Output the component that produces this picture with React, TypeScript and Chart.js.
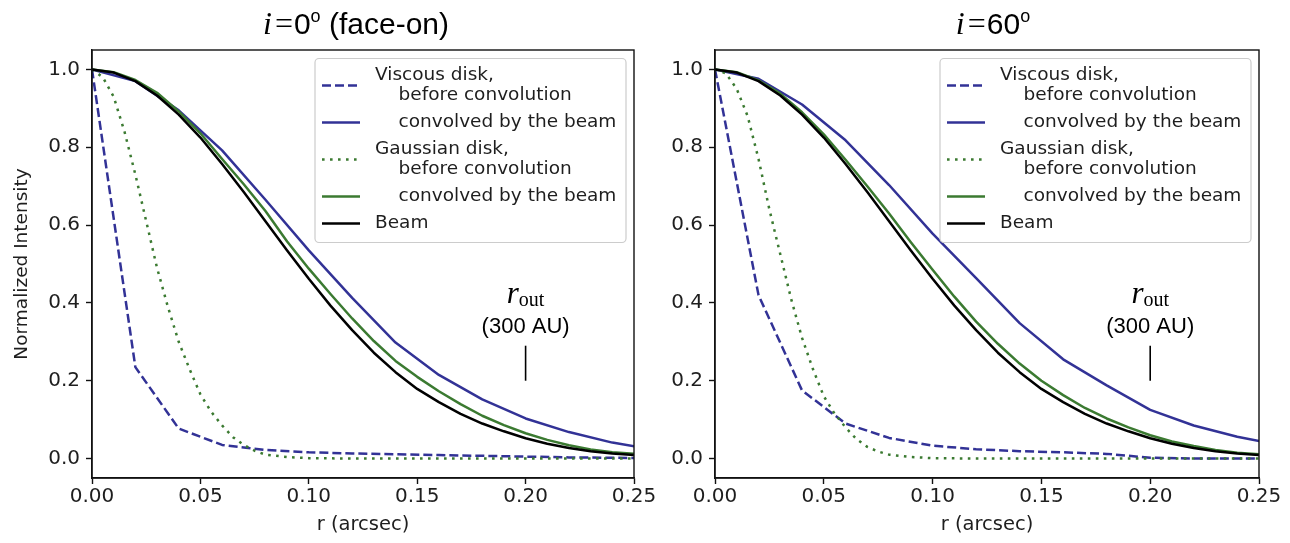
import React, { useEffect, useRef } from "react";
import { Chart, registerables } from "chart.js";

Chart.register(...registerables);

// ---------- data ----------
const xTickValues = [0, 0.05, 0.1, 0.15, 0.2, 0.25];
const xTickLabels = ["0.00", "0.05", "0.10", "0.15", "0.20", "0.25"];
const yTickValues = [0, 0.2, 0.4, 0.6, 0.8, 1.0];
const yTickLabels = ["0.0", "0.2", "0.4", "0.6", "0.8", "1.0"];

// viscous-disk model grid (arcsec)
const rCoarse = [0, 0.02, 0.04, 0.06, 0.08, 0.1, 0.12, 0.14, 0.16, 0.18, 0.2, 0.22, 0.24, 0.26];
const viscousRawLeft = [1.0, 0.235, 0.077, 0.035, 0.022, 0.016, 0.013, 0.011, 0.009, 0.007, 0.005, 0.003, 0.002, 0.001];
const viscousConvLeft = [1.0, 0.97, 0.895, 0.792, 0.665, 0.535, 0.413, 0.298, 0.215, 0.152, 0.103, 0.068, 0.041, 0.022];
const viscousRawRight = [1.0, 0.42, 0.175, 0.09, 0.053, 0.033, 0.024, 0.019, 0.016, 0.012, 0.002, 0.0, 0.0, 0.0];
const viscousConvRight = [1.0, 0.976, 0.91, 0.818, 0.703, 0.578, 0.464, 0.348, 0.255, 0.188, 0.125, 0.085, 0.056, 0.034];

// gaussian-disk model grid (arcsec)
const rGauss = [0, 0.005, 0.01, 0.015, 0.02, 0.025, 0.03, 0.035, 0.04, 0.045, 0.05, 0.055, 0.06, 0.065, 0.07, 0.075, 0.08, 0.09, 0.1, 0.12, 0.15, 0.2, 0.25];
const gaussRawLeft = [1.0, 0.98, 0.93, 0.84, 0.73, 0.61, 0.49, 0.39, 0.3, 0.23, 0.165, 0.12, 0.085, 0.055, 0.035, 0.02, 0.01, 0.004, 0.001, 0, 0, 0, 0];
const gaussRawRight = [1.0, 0.99, 0.95, 0.88, 0.77, 0.64, 0.525, 0.41, 0.31, 0.23, 0.16, 0.115, 0.08, 0.05, 0.03, 0.018, 0.01, 0.004, 0.001, 0, 0, 0, 0];

// convolved profiles and beam grid (arcsec)
const rFine = [0, 0.01, 0.02, 0.03, 0.04, 0.05, 0.06, 0.07, 0.08, 0.09, 0.1, 0.11, 0.12, 0.13, 0.14, 0.15, 0.16, 0.17, 0.18, 0.19, 0.2, 0.21, 0.22, 0.23, 0.24, 0.25];
const gaussConvLeft = [1.0, 0.993, 0.973, 0.94, 0.892, 0.836, 0.77, 0.705, 0.636, 0.558, 0.488, 0.423, 0.36, 0.302, 0.251, 0.21, 0.173, 0.14, 0.11, 0.086, 0.065, 0.048, 0.034, 0.023, 0.016, 0.012];
const gaussConvRight = [1.0, 0.993, 0.972, 0.938, 0.89, 0.833, 0.768, 0.7, 0.63, 0.556, 0.485, 0.416, 0.352, 0.295, 0.244, 0.2, 0.163, 0.13, 0.103, 0.08, 0.06, 0.044, 0.032, 0.022, 0.015, 0.011];
const beamProfile = [1.0, 0.992, 0.97, 0.933, 0.884, 0.825, 0.757, 0.685, 0.61, 0.535, 0.462, 0.393, 0.33, 0.272, 0.222, 0.179, 0.145, 0.115, 0.09, 0.07, 0.052, 0.038, 0.027, 0.019, 0.013, 0.009];

const legendLabels: string[][] = [
  ["Viscous disk,", "    before convolution"],
  ["    convolved by the beam"],
  ["Gaussian disk,", "    before convolution"],
  ["    convolved by the beam"],
  ["Beam"],
];

// r_out annotation (arcsec / normalized intensity)
const rOut = 0.2;
const rOutLabel = "(300 AU)";
const rOutLineFrom = 0.2;
const rOutLineTo = 0.29;
const rOutSymbolY = 0.415;
const rOutLabelY = 0.338;

// ---------- styles ----------
const FONT_SANS = "'DejaVu Sans', 'Noto Sans', sans-serif";
const FONT_TITLE = "'Liberation Sans', Arial, sans-serif";
const FONT_SERIF = "'Liberation Serif', 'DejaVu Serif', serif";
const BLUE = "#323296";
const GREEN = "#3b7a31";
const BLACK = "#000000";
const TEXT = "#1e1e1e";
const LW = 2.5;
const DASH = [9, 4];
const DOT = [2.6, 5.4];

const seriesStyles = [
  { color: BLUE, dash: DASH },
  { color: BLUE, dash: [] as number[] },
  { color: GREEN, dash: DOT },
  { color: GREEN, dash: [] as number[] },
  { color: BLACK, dash: [] as number[] },
];

type TitlePart = { t: string; kind: "italic" | "sans" | "sup" | "serif"; gap: number };

type PanelSpec = {
  left: number;
  width: number;
  yAxisWidth: number;
  padRight: number;
  showYTitle: boolean;
  title: TitlePart[];
  titleShift: number;
  viscousRaw: number[];
  viscousConv: number[];
  gaussRaw: number[];
  gaussConv: number[];
};

const panels: PanelSpec[] = [
  {
    left: 0,
    width: 660,
    yAxisWidth: 92,
    padRight: 26,
    showYTitle: true,
    title: [
      { t: "i", kind: "italic", gap: 3 },
      { t: "=", kind: "serif", gap: 1 },
      { t: "0", kind: "sans", gap: 0 },
      { t: "o", kind: "sup", gap: 0 },
      { t: " (face-on)", kind: "sans", gap: 0 },
    ],
    titleShift: -7,
    viscousRaw: viscousRawLeft,
    viscousConv: viscousConvLeft,
    gaussRaw: gaussRawLeft,
    gaussConv: gaussConvLeft,
  },
  {
    left: 655,
    width: 635,
    yAxisWidth: 60,
    padRight: 31,
    showYTitle: false,
    title: [
      { t: "i", kind: "italic", gap: 3 },
      { t: "=", kind: "serif", gap: 1 },
      { t: "60", kind: "sans", gap: 0 },
      { t: "o", kind: "sup", gap: 0 },
    ],
    titleShift: 6,
    viscousRaw: viscousRawRight,
    viscousConv: viscousConvRight,
    gaussRaw: gaussRawRight,
    gaussConv: gaussConvRight,
  },
];

const pts = (xs: number[], ys: number[]) => xs.map((x, i) => ({ x, y: ys[i] }));

function titleFont(kind: TitlePart["kind"]) {
  if (kind === "italic") return `italic 32px ${FONT_SERIF}`;
  if (kind === "serif") return `32px ${FONT_SERIF}`;
  if (kind === "sup") return `18px ${FONT_TITLE}`;
  return `30px ${FONT_TITLE}`;
}

function makeDecorPlugin(spec: PanelSpec) {
  return {
    id: "decor",
    afterDraw(chart: any) {
      const { ctx, chartArea: ca, scales } = chart;
      const xs = scales.x;
      const ys = scales.y;
      ctx.save();

      // frame
      ctx.strokeStyle = "#111";
      ctx.lineWidth = 1.4;
      ctx.setLineDash([]);
      ctx.strokeRect(ca.left, ca.top, ca.right - ca.left, ca.bottom - ca.top);

      // title
      let total = 0;
      for (const p of spec.title) {
        ctx.font = titleFont(p.kind);
        total += ctx.measureText(p.t).width + p.gap;
      }
      let tx = (ca.left + ca.right) / 2 + spec.titleShift - total / 2;
      const baseY = ca.top - 16;
      ctx.fillStyle = "#000";
      ctx.textBaseline = "alphabetic";
      ctx.textAlign = "left";
      for (const p of spec.title) {
        ctx.font = titleFont(p.kind);
        const y = p.kind === "sup" ? baseY - 12 : baseY;
        ctx.fillText(p.t, tx, y);
        tx += ctx.measureText(p.t).width + p.gap;
      }

      // r_out annotation
      const ax = xs.getPixelForValue(rOut);
      ctx.strokeStyle = "#000";
      ctx.lineWidth = 1.6;
      ctx.beginPath();
      ctx.moveTo(ax, ys.getPixelForValue(rOutLineFrom));
      ctx.lineTo(ax, ys.getPixelForValue(rOutLineTo));
      ctx.stroke();
      ctx.fillStyle = "#000";
      ctx.font = `22px ${FONT_TITLE}`;
      ctx.textAlign = "center";
      ctx.textBaseline = "middle";
      ctx.fillText(rOutLabel, ax, ys.getPixelForValue(rOutLabelY));
      // r_out symbol
      const symBase = ys.getPixelForValue(rOutSymbolY) + 6;
      ctx.font = `italic 31px ${FONT_SERIF}`;
      const wr = ctx.measureText("r").width;
      ctx.font = `20px ${FONT_SERIF}`;
      const wo = ctx.measureText("out").width;
      const sx = ax - (wr + wo) / 2;
      ctx.textAlign = "left";
      ctx.textBaseline = "alphabetic";
      ctx.font = `italic 31px ${FONT_SERIF}`;
      ctx.fillText("r", sx, symBase);
      ctx.font = `20px ${FONT_SERIF}`;
      ctx.fillText("out", sx + wr, symBase + 3);

      // legend
      const bw = 311;
      const bh = 184;
      const bx = ca.right - 8 - bw;
      const by = ca.top + 8.5;
      ctx.fillStyle = "rgba(255,255,255,0.85)";
      ctx.strokeStyle = "#cccccc";
      ctx.lineWidth = 1.2;
      ctx.beginPath();
      (ctx as any).roundRect(bx, by, bw, bh, 4);
      ctx.fill();
      ctx.stroke();
      ctx.font = `18.5px ${FONT_SANS}`;
      ctx.fillStyle = TEXT;
      ctx.textBaseline = "middle";
      ctx.textAlign = "left";
      let cy = by + 7;
      legendLabels.forEach((lines, i) => {
        const centers = lines.map((_, k) => cy + 10 + k * 20);
        lines.forEach((ln, k) => ctx.fillText(ln, bx + 60, centers[k]));
        const mid = centers.reduce((a, b) => a + b, 0) / centers.length;
        const st = seriesStyles[i];
        ctx.strokeStyle = st.color;
        ctx.lineWidth = LW;
        ctx.setLineDash(st.dash);
        ctx.beginPath();
        ctx.moveTo(bx + 7, mid);
        ctx.lineTo(bx + 45, mid);
        ctx.stroke();
        ctx.setLineDash([]);
        cy += lines.length * 20 + 7;
      });

      ctx.restore();
    },
  };
}

function Panel({ spec }: { spec: PanelSpec }) {
  const ref = useRef<HTMLCanvasElement>(null);
  useEffect(() => {
    const series = [
      pts(rCoarse, spec.viscousRaw),
      pts(rCoarse, spec.viscousConv),
      pts(rGauss, spec.gaussRaw),
      pts(rFine, spec.gaussConv),
      pts(rFine, beamProfile),
    ];
    const tickFont = { family: FONT_SANS, size: 20 };
    const chart = new Chart(ref.current as HTMLCanvasElement, {
      type: "line",
      data: {
        datasets: series.map((d, i) => ({
          label: legendLabels[i].join(" ").trim(),
          data: d,
          borderColor: seriesStyles[i].color,
          borderDash: seriesStyles[i].dash,
          borderWidth: LW,
          borderCapStyle: "butt",
          borderJoinStyle: "round",
          pointRadius: 0,
          tension: 0,
          fill: false,
          order: 4 - i,
        })),
      },
      options: {
        animation: false,
        responsive: false,
        devicePixelRatio: 1,
        layout: { padding: { left: 0, top: 50, right: spec.padRight, bottom: 0 } },
        plugins: { legend: { display: false }, tooltip: { enabled: false }, title: { display: false } },
        scales: {
          x: {
            type: "linear",
            min: 0,
            max: 0.25,
            afterBuildTicks: (s: any) => {
              s.ticks = xTickValues.map((v) => ({ value: v }));
            },
            afterFit: (s: any) => {
              s.height = 65;
            },
            ticks: {
              callback: (_v: any, i: number) => xTickLabels[i],
              font: tickFont,
              color: TEXT,
              padding: 1,
              maxRotation: 0,
              autoSkip: false,
            },
            grid: { display: true, drawOnChartArea: false, drawTicks: true, tickLength: 6, tickWidth: 1.4, tickColor: "#111", color: "#111" },
            border: { display: true, color: "#111", width: 1.4 },
            title: { display: true, text: "r (arcsec)", font: { family: FONT_SANS, size: 19.5 }, color: TEXT, padding: { top: 0, bottom: 6 } },
          },
          y: {
            type: "linear",
            min: -0.05,
            max: 1.05,
            afterBuildTicks: (s: any) => {
              s.ticks = yTickValues.map((v) => ({ value: v }));
            },
            afterFit: (s: any) => {
              s.width = spec.yAxisWidth;
            },
            ticks: {
              callback: (_v: any, i: number) => yTickLabels[i],
              font: tickFont,
              color: TEXT,
              padding: 6,
              autoSkip: false,
            },
            grid: { display: true, drawOnChartArea: false, drawTicks: true, tickLength: 6, tickWidth: 1.4, tickColor: "#111", color: "#111" },
            border: { display: true, color: "#111", width: 1.4 },
            title: {
              display: spec.showYTitle,
              text: "Normalized Intensity",
              font: { family: FONT_SANS, size: 18.5 },
              color: TEXT,
              padding: { top: 11, bottom: 0 },
            },
          },
        },
      },
      plugins: [makeDecorPlugin(spec)],
    } as any);
    return () => chart.destroy();
  }, [spec]);
  return (
    <canvas
      ref={ref}
      width={spec.width}
      height={543}
      style={{ position: "absolute", left: spec.left, top: 0, width: spec.width, height: 543 }}
    />
  );
}

export default function App() {
  return (
    <div style={{ position: "fixed", left: 0, top: 0, width: 1290, height: 543, background: "#ffffff", overflow: "hidden" }}>
      {panels.map((p, i) => (
        <Panel key={i} spec={p} />
      ))}
    </div>
  );
}
